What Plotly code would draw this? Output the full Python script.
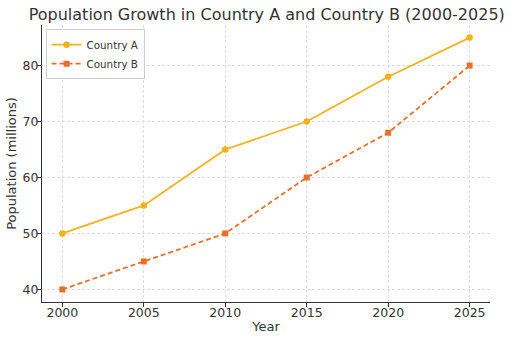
import plotly.graph_objects as go

years = [2000, 2005, 2010, 2015, 2020, 2025]
country_a = [50, 55, 65, 70, 78, 85]
country_b = [40, 45, 50, 60, 68, 80]
x_ticks = [2000, 2005, 2010, 2015, 2020, 2025]
y_ticks = [40, 50, 60, 70, 80]

col_a = "#f2b21d"
col_b = "#e8702a"

fig = go.Figure()
fig.add_trace(go.Scatter(x=years, y=country_a, name="Country A", mode="lines+markers",
                         line=dict(color=col_a, width=1.8), marker=dict(symbol="circle", size=6.5, color=col_a)))
fig.add_trace(go.Scatter(x=years, y=country_b, name="Country B", mode="lines+markers",
                         line=dict(color=col_b, width=1.8, dash="5px,3px"), marker=dict(symbol="square", size=6, color=col_b)))

fig.update_layout(
    width=512, height=341,
    margin=dict(l=42, r=22, t=25, b=39),
    paper_bgcolor="white", plot_bgcolor="white",
    font=dict(family="DejaVu Sans", color="#333333", size=12),
    title=dict(text="Population Growth in Country A and Country B (2000-2025)",
               x=0.521, xanchor="center", y=0.975, yanchor="top", font=dict(size=16, color="#333333")),
    legend=dict(x=0.008, y=0.985, xanchor="left", yanchor="top", bgcolor="rgba(255,255,255,0.8)",
                bordercolor="#cccccc", borderwidth=1, font=dict(size=10.3), tracegroupgap=0,
                itemwidth=30),
    showlegend=True,
)
fig.update_xaxes(range=[1998.75, 2026.25], tickvals=x_ticks, ticks="outside", ticklen=4,
                 tickcolor="#333333", showline=True, linecolor="#333333", linewidth=1.2,
                 showgrid=True, gridcolor="#dddddd", griddash="3px,2px", gridwidth=0.8,
                 zeroline=False, title=dict(text="Year", font=dict(size=13), standoff=2),
                 tickfont=dict(size=12.5), automargin=False, ticklabelstandoff=-5)
fig.update_yaxes(range=[37.75, 87.25], tickvals=y_ticks, ticks="outside", ticklen=4,
                 tickcolor="#333333", showline=True, linecolor="#333333", linewidth=1.2,
                 showgrid=True, gridcolor="#dddddd", griddash="3px,2px", gridwidth=0.8,
                 zeroline=False, title=dict(text="Population (millions)", font=dict(size=13), standoff=2),
                 tickfont=dict(size=12.5), automargin=False, ticklabelstandoff=-4)

fig.write_html("out.html")
